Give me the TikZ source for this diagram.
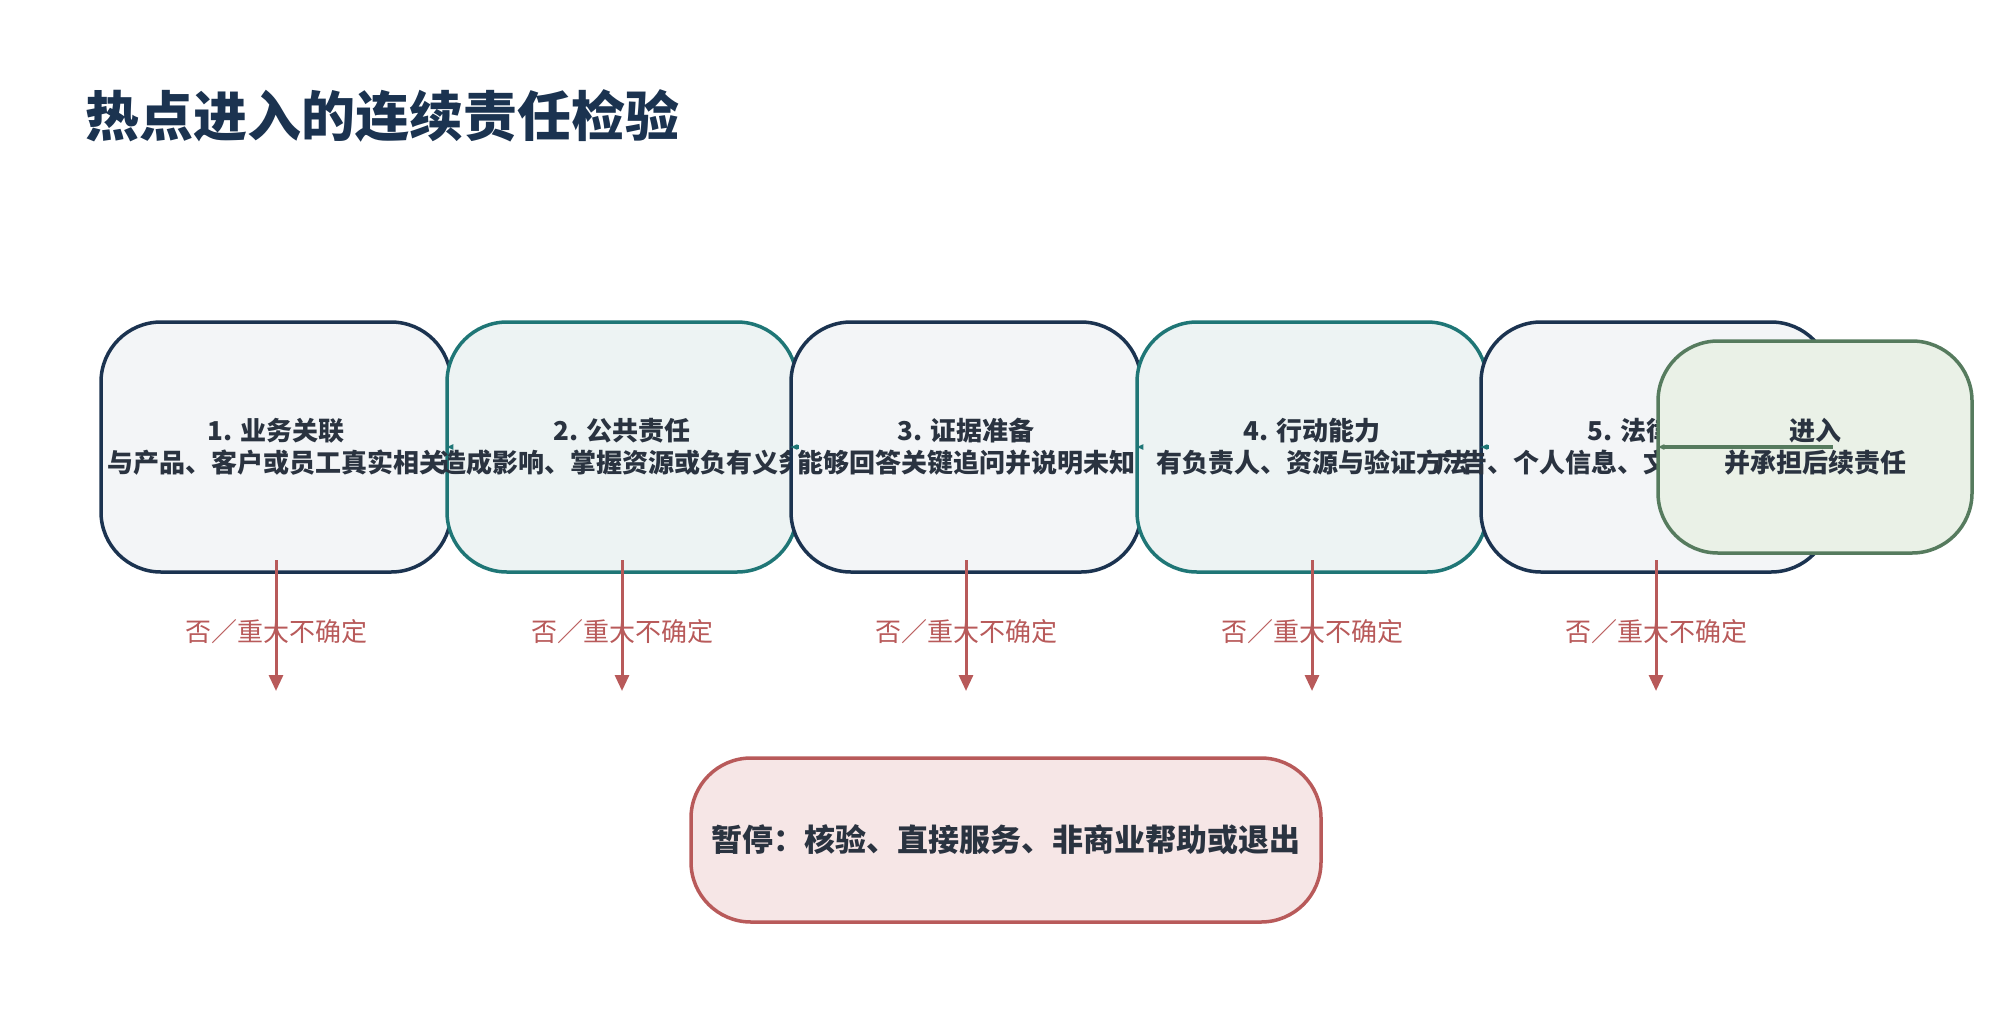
\documentclass[tikz,border=0pt]{standalone}
\usepackage{fontspec}
\setmainfont{Noto Sans CJK SC}
\usetikzlibrary{arrows.meta}
\definecolor{cnavy}{HTML}{1B3350}
\definecolor{cteal}{HTML}{1F7676}
\definecolor{cgrn}{HTML}{567B5E}
\definecolor{cred}{HTML}{B85A5A}
\definecolor{ctxt}{HTML}{2A3340}
\definecolor{fnavy}{HTML}{F3F5F7}
\definecolor{fteal}{HTML}{EDF3F3}
\definecolor{fgrn}{HTML}{EAF1E7}
\definecolor{fred}{HTML}{F6E6E6}
\newcommand{\ctr}[1]{\makebox[0pt][c]{#1}}
\begin{document}
\begin{tikzpicture}[x=1pt,y=-1pt,
 box/.style={draw,line width=3.5pt,rounded corners=60pt,minimum width=350pt,minimum height=250pt,align=center,text=ctxt,font=\fontsize{26}{32}\selectfont\bfseries},
 nb/.style={box,draw=cnavy,fill=fnavy},
 tb/.style={box,draw=cteal,fill=fteal},
 link/.style={draw=cteal,line width=3.5pt,-{Latex[length=8pt]}},
 no/.style={draw=cred,line width=3pt,-{Triangle[length=16pt,width=14pt]}},
 lab/.style={text=cred,font=\fontsize{26}{30}\selectfont}]
\useasboundingbox (0,0) rectangle (2004,1009);
\node[anchor=west,text=cnavy,font=\fontsize{54}{60}\selectfont\bfseries] (title) at (82,116) {热点进入的连续责任检验};
\node[nb] (n1) at (276,447) {\ctr{1. 业务关联}\\\ctr{与产品、客户或员工真实相关}};
\node[tb] (n2) at (622,447) {\ctr{2. 公共责任}\\\ctr{造成影响、掌握资源或负有义务}};
\node[nb] (n3) at (966,447) {\ctr{3. 证据准备}\\\ctr{能够回答关键追问并说明未知}};
\node[tb] (n4) at (1312,447) {\ctr{4. 行动能力}\\\ctr{有负责人、资源与验证方法}};
\node[nb] (n5) at (1656,447) {\ctr{5. 法律文化}\\\ctr{广告、个人信息、文化和宗教内容合规}};
\node[box,draw=cgrn,fill=fgrn,minimum width=314pt,minimum height=212pt] (f) at (1815,447) {\ctr{进入}\\\ctr{并承担后续责任}};
\node[box,draw=cred,fill=fred,minimum width=630pt,minimum height=164pt,font=\fontsize{31}{36}\selectfont\bfseries] (p) at (1006,840) {暂停：核验、直接服务、非商业帮助或退出};
\draw[link] (n1.east) -- (n2.west);
\draw[link] (n2.east) -- (n3.west);
\draw[link] (n3.east) -- (n4.west);
\draw[link] (n4.east) -- (n5.west);
\draw[link,draw=cgrn] (n5.east) -- (f.west);
\foreach \i in {1,...,5}{
 \coordinate (e\i) at ([yshift=-244pt]n\i.center);
 \draw[no] ([yshift=-113pt]n\i.center) -- (e\i);
 \node[lab] (l\i) at ([yshift=-185pt]n\i.center) {否／重大不确定};
}
\end{tikzpicture}
\end{document}
